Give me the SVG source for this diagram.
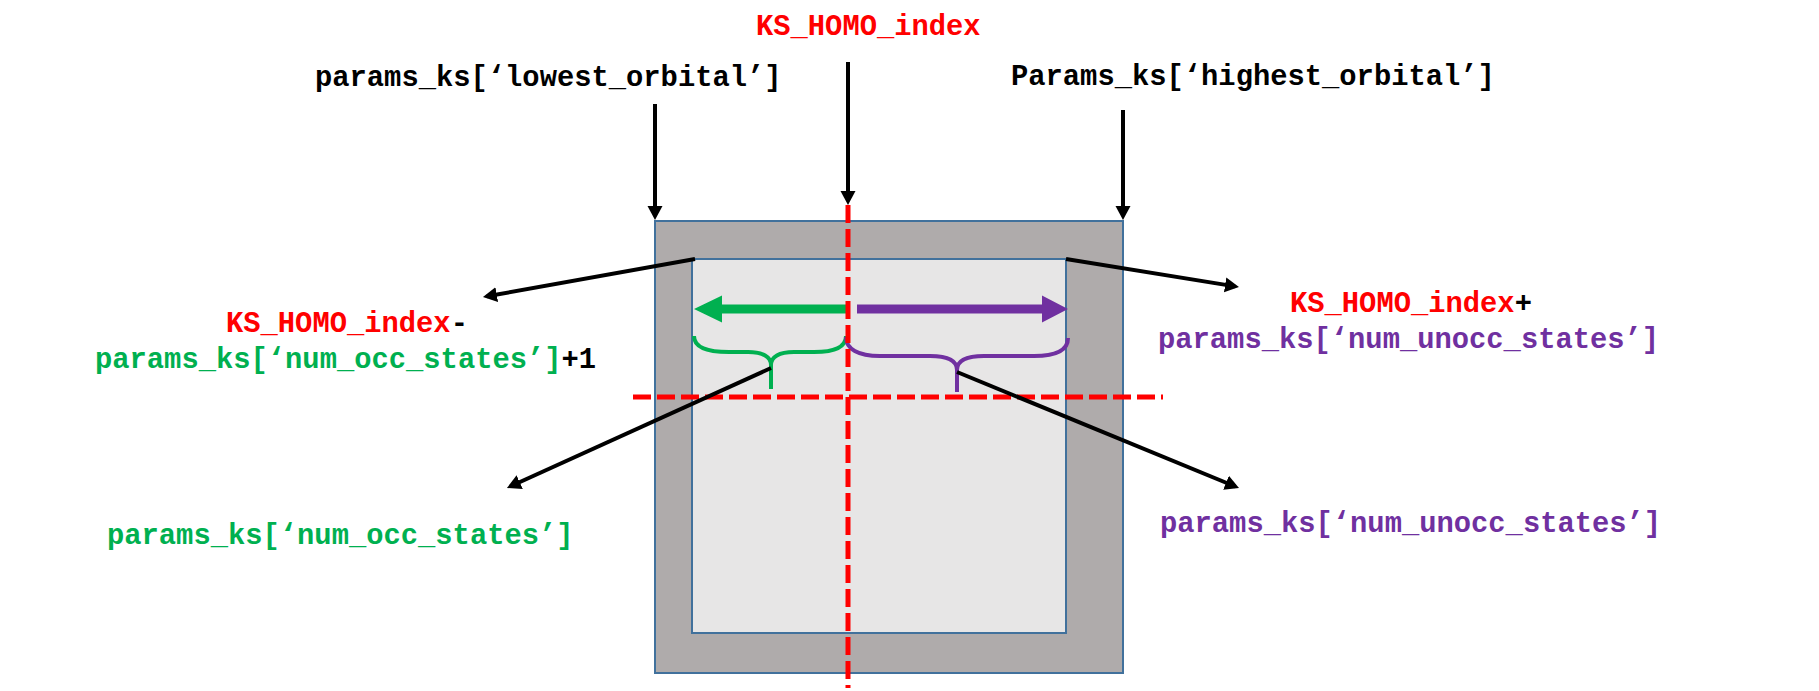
<svg xmlns="http://www.w3.org/2000/svg" width="1819" height="691" viewBox="0 0 1819 691">
<style>
.t{font-family:"Liberation Mono","Courier New",monospace;font-weight:bold;font-size:28.8px}
.r{fill:#FF0000}.g{fill:#00B050}.p{fill:#7030A0}.k{fill:#000}
.conn{stroke:#000;stroke-width:4;fill:none;marker-end:url(#ah)}
.red{stroke:#FF0000;stroke-width:5;fill:none;stroke-dasharray:18 6}
.brace{fill:none;stroke-width:4}
</style>
<defs>
<marker id="ah" markerUnits="userSpaceOnUse" markerWidth="15" markerHeight="16" refX="10" refY="7.5" orient="auto">
<path d="M0,0 L14,7.5 L0,15 Z" fill="#000"/>
</marker>
</defs>
<rect width="1819" height="691" fill="#fff"/>
<g id="outer-box"><rect x="655" y="221" width="468" height="452" fill="#AFABAB" stroke="#41719C" stroke-width="2"/></g>
<g id="inner-box"><rect x="692" y="259" width="374" height="374" fill="#E7E6E6" stroke="#41719C" stroke-width="2"/></g>
<g id="occ-brace"><path class="brace" stroke="#00B050" d="M694,336 C694,347 706,352 729,352 L748,352 C763,352 771,357 771,365 M846,336 C846,347 834,352 814,352 L794,352 C779,352 771,357 771,365 L771,389"/></g>
<g id="unocc-brace"><path class="brace" stroke="#7030A0" d="M846,337 C846,349 858,356 880,356 L930,356 C948,356 957,361 957,370 M1068,338 C1068,350 1056,356 1034,356 L984,356 C966,356 957,361 957,370 L957,392"/></g>
<g id="occ-arrow"><path fill="#00B050" d="M846,304.5 L722,304.5 L722,295.5 L694,309 L722,322.5 L722,313.5 L846,313.5 Z"/></g>
<g id="unocc-arrow"><path fill="#7030A0" d="M857,304.5 L1042,304.5 L1042,295.5 L1068,309 L1042,322.5 L1042,313.5 L857,313.5 Z"/></g>
<g id="homo-lines">
<line class="red" x1="848" y1="205" x2="848" y2="688"/>
<line class="red" x1="633" y1="397" x2="1163" y2="397"/>
</g>
<g id="connectors">
<line class="conn" x1="655" y1="104" x2="655" y2="216"/>
<line class="conn" x1="848" y1="62" x2="848" y2="201"/>
<line class="conn" x1="1123" y1="110" x2="1123" y2="216"/>
<line class="conn" x1="695" y1="259" x2="486.9" y2="296.3"/>
<line class="conn" x1="1066" y1="259" x2="1235" y2="286.4"/>
<line class="conn" x1="771" y1="368" x2="510.6" y2="486.3"/>
<line class="conn" x1="957" y1="372" x2="1235.3" y2="486.5"/>
</g>
<g id="label-homo"><text class="t r" x="756" y="35">KS_HOMO_index</text></g>
<g id="label-lowest"><text class="t k" x="315" y="86">params_ks[‘lowest_orbital’]</text></g>
<g id="label-highest"><text class="t k" x="1011" y="85">Params_ks[‘highest_orbital’]</text></g>
<g id="label-occ-range">
<text class="t" x="226" y="332"><tspan class="r">KS_HOMO_index</tspan><tspan class="k">-</tspan></text>
<text class="t" x="95" y="368"><tspan class="g">params_ks[‘num_occ_states’]</tspan><tspan class="k">+1</tspan></text>
</g>
<g id="label-unocc-range">
<text class="t" x="1290" y="312"><tspan class="r">KS_HOMO_index</tspan><tspan class="k">+</tspan></text>
<text class="t p" x="1158" y="348">params_ks[‘num_unocc_states’]</text>
</g>
<g id="label-occ"><text class="t g" x="107" y="544">params_ks[‘num_occ_states’]</text></g>
<g id="label-unocc"><text class="t p" x="1160" y="532">params_ks[‘num_unocc_states’]</text></g>
</svg>
